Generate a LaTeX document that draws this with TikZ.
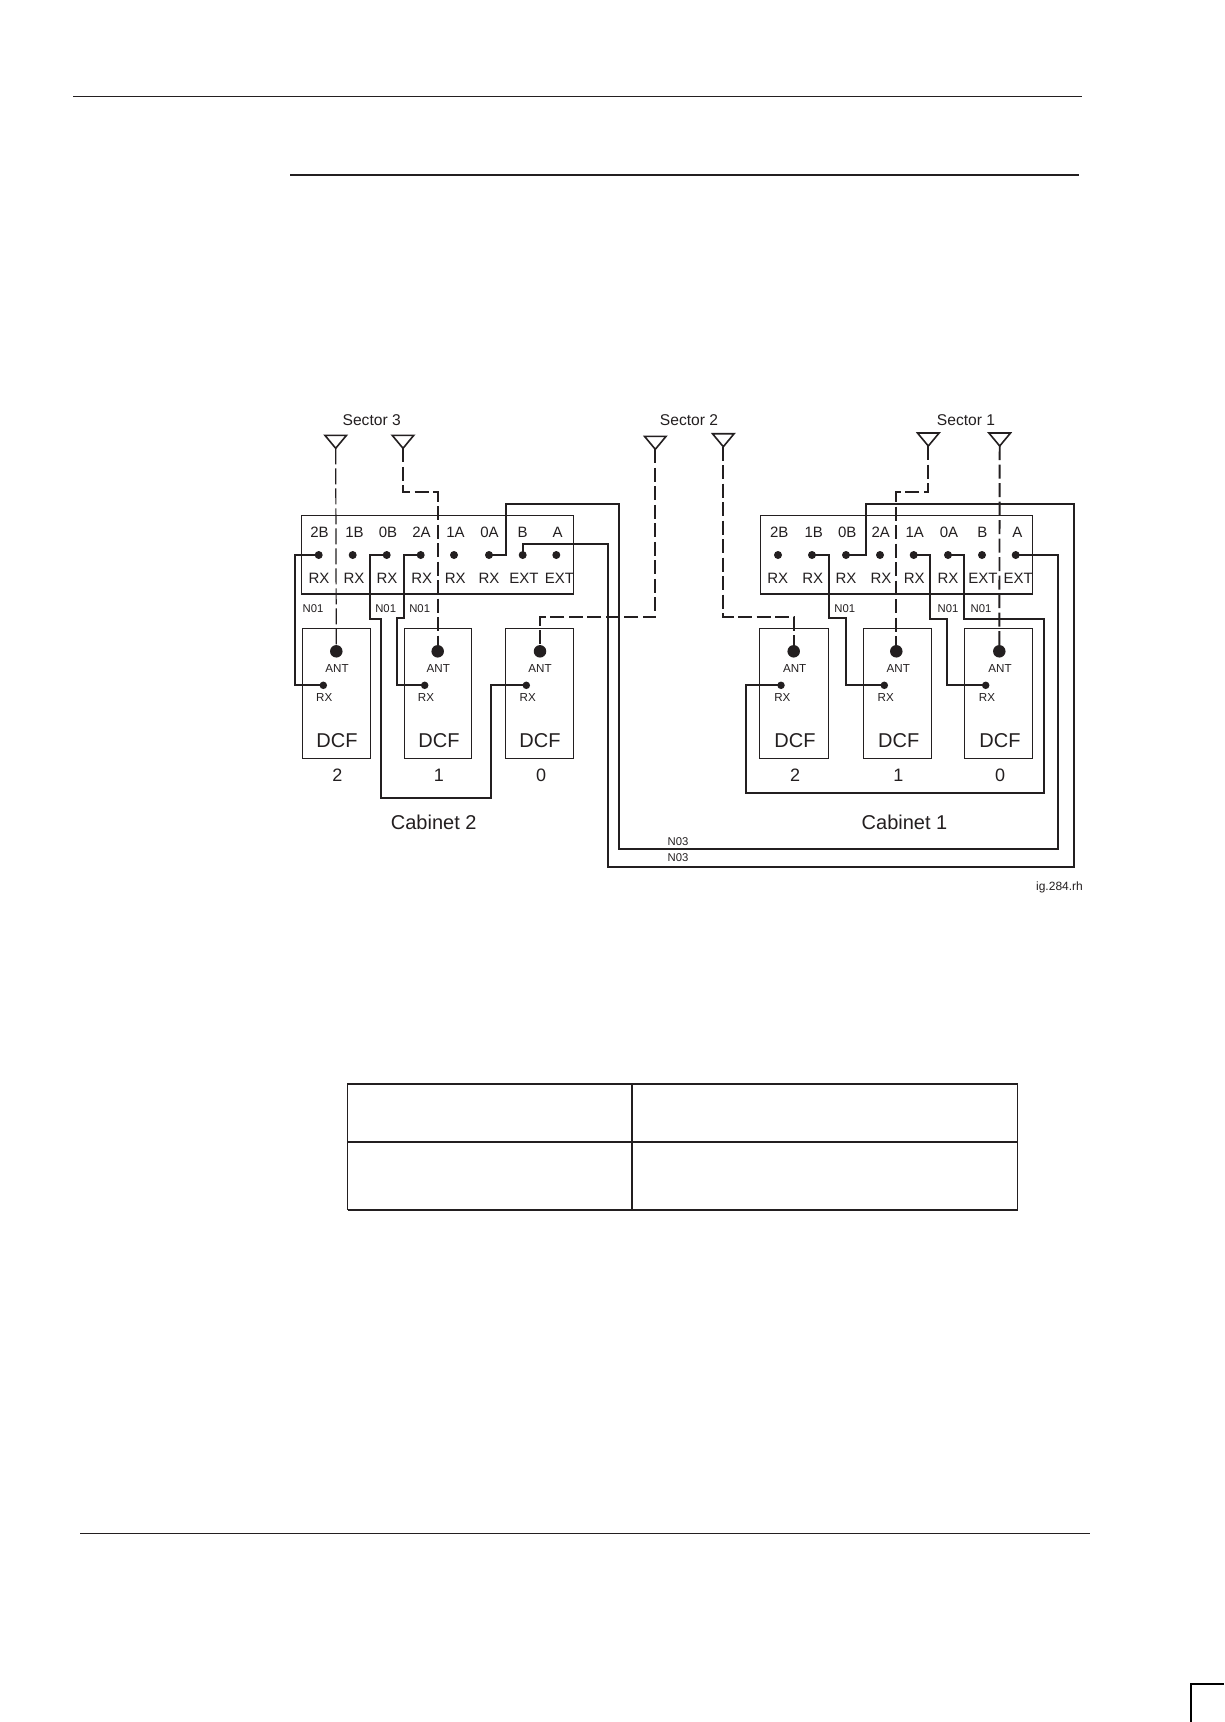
\documentclass[tikz,border=0pt]{standalone}
\usepackage{fontspec}
\setmainfont{Liberation Sans}
\definecolor{ink}{HTML}{231F20}
\tikzset{
  lbl/.style={inner sep=0pt,text=ink,font=\fontsize{15}{15}\selectfont},
  sec/.style={inner sep=0pt,text=ink,font=\fontsize{15.6}{16}\selectfont},
  small/.style={inner sep=0pt,text=ink,font=\fontsize{11.6}{12}\selectfont},
  dcf/.style={inner sep=0pt,text=ink,font=\fontsize{20}{20}\selectfont},
  num/.style={inner sep=0pt,text=ink,font=\fontsize{18}{18}\selectfont},
  cab/.style={inner sep=0pt,text=ink,font=\fontsize{20}{20}\selectfont},
  box/.style={draw=ink,line width=1.1pt},
  pdot/.style={circle,fill=ink,inner sep=0pt,minimum size=8pt},
  adot/.style={circle,fill=ink,inner sep=0pt,minimum size=12.5pt},
  wire/.style={draw=ink,line width=1.9pt,line join=miter},
  feed/.style={draw=ink,line width=1.9pt,dash pattern=on 14pt off 4.5pt},
  thinfeed/.style={draw=ink,line width=1.2pt,dash pattern=on 16pt off 4pt},
  ant/.style={draw=ink,line width=1.6pt,line join=miter},
  rule/.style={draw=ink,line width=1.5pt}
}
\begin{document}
\begin{tikzpicture}[x=1pt,y=-1pt]
\useasboundingbox (0,0) rectangle (1224,1722);
\fill[white] (0,0) rectangle (1224,1722);
% page rules
\coordinate (r1a) at (73,96.5); \coordinate (r1b) at (1081.5,96.5);
\coordinate (r2a) at (290,175); \coordinate (r2b) at (1079,175);
\coordinate (r3a) at (80,1533.5); \coordinate (r3b) at (1089.5,1533.5);
\draw[rule] (r1a) -- (r1b);
\draw[draw=ink,line width=2.2pt] (r2a) -- (r2b);
\draw[rule] (r3a) -- (r3b);
\coordinate (cn1) at (1191,1722); \coordinate (cn2) at (1191,1684); \coordinate (cn3) at (1224,1684);
\draw[draw=black,line width=2pt] (cn1) -- (cn2) -- (cn3);
% empty table
\coordinate (t1) at (347.5,1084); \coordinate (t2) at (1017.5,1084);
\coordinate (t3) at (1017.5,1210); \coordinate (t4) at (347.5,1210);
\draw[draw=ink,line width=1.3pt] (t4) -- (t1) -- (t2);
\draw[draw=ink,line width=1.9pt] (t2) -- (t3);
\draw[draw=ink,line width=2.2pt] (t3) -- (t4);
\draw[draw=ink,line width=2.2pt] (347.5,1142) -- (1017.5,1142);
\draw[draw=ink,line width=1.1pt] (632,1084) -- (632,1210);
% panels
\draw[box] (301.7,515.7) rectangle (573.3,594);
\draw[box] (760.3,515.7) rectangle (1032.7,594);
% DCF boxes
\foreach \a/\b in {302.3/370.3,404.3/471.3,505.3/573.3,759.3/828.7,863.3/931.7,964.3/1032.7}
  \draw[box] (\a,628.3) rectangle (\b,758.3);
% panel dots and labels: cabinet 2
\foreach \n/\x/\tx/\bx/\t/\b in {
  tb/318.7/319.5/319/2B/RX, ob/352.7/354.5/354/1B/RX, zb/386.7/388/387/0B/RX, ta/420.7/421.5/421.7/2A/RX,
  oa/454/455.5/455.3/1A/RX, za/489/489.5/489/0A/RX, b/522.7/522.7/524/B/EXT, a/556.3/557.5/559.5/A/EXT}{
  \node[pdot] (dl\n) at (\x,555) {};
  \node[lbl] (topl\n) at (\tx,532.7) {\t};
  \node[lbl] (botl\n) at (\bx,578) {\b};
}
% panel dots and labels: cabinet 1
\foreach \n/\x/\tx/\bx/\t/\b in {
  tb/778/779.3/777.7/2B/RX, ob/812/813.7/812.7/1B/RX, zb/846/847.3/846/0B/RX, ta/880/880.7/881/2A/RX,
  oa/913.7/914.7/914.3/1A/RX, za/948/949/948/0A/RX, b/982/982.3/983/B/EXT, a/1015.7/1017.3/1018.3/A/EXT}{
  \node[pdot] (dr\n) at (\x,555) {};
  \node[lbl] (topr\n) at (\tx,532.7) {\t};
  \node[lbl] (botr\n) at (\bx,578) {\b};
}
% DCF contents
\foreach \n/\ad/\al/\rd/\rl/\dl/\nl/\num in {
  lc/336.3/337/323.3/324.3/337/337.3/2, lb/437.7/438.3/424.7/426/439/439/1, la/540/540/526.3/527.7/540/541/0,
  rc/793.7/794.7/781/782.3/795/795/2, rb/896.3/898.3/884.3/885.7/898.7/898.3/1, ra/999.3/1000/985.7/987/1000/1000/0}{
  \node[adot] (ant\n) at (\ad,651.3) {};
  \node[small] (antl\n) at (\al,668.3) {ANT};
  \node[pdot,minimum size=7.5pt] (rx\n) at (\rd,685.3) {};
  \node[small] (rxl\n) at (\rl,697.3) {RX};
  \node[dcf] (dcf\n) at (\dl,741) {DCF};
  \node[num] (num\n) at (\nl,775) {\num};
}
% antenna tips
\coordinate (s3a) at (335.7,448.3);
\coordinate (s3b) at (403,448.3);
\coordinate (s2a) at (655.3,449.3);
\coordinate (s2b) at (723.3,446.7);
\coordinate (s1a) at (928.3,446);
\coordinate (s1b) at (999.7,446);
\foreach \c in {s3a,s3b,s2a,s2b,s1a,s1b}
  \draw[ant] (\c) -- ++(-10.8,-13) -- ++(21.6,0) -- cycle;
% feeders
\draw[thinfeed] (s3a) -- (antlc.center);
\draw[feed] (s3b) -- (403,492.3) -- (437.7,492.3) -- (antlb.center);
\draw[feed] (s2a) -- (655.3,617) -- (540,617) -- (antla.center);
\draw[feed] (s2b) -- (723.3,617) -- (793.7,617) -- (antrc.center);
\draw[feed] (s1a) -- (928.3,492.3) -- (896.3,492.3) -- (antrb.center);
\draw[feed] (s1b) -- (antra.center);
% N01 jumpers cabinet 2
\draw[wire] (dltb.center) -- (295,555) -- (295,685.3) -- (rxlc.center);
\draw[wire] (dlzb.center) -- (369.7,555) -- (369.7,618.7) -- (381,618.7) -- (381,798.3) -- (491.3,798.3) -- (491.3,685.3) -- (rxla.center);
\draw[wire] (dlta.center) -- (403.7,555) -- (403.7,618) -- (397,618) -- (397,685.3) -- (rxlb.center);
% N01 jumpers cabinet 1
\draw[wire] (drob.center) -- (829,555) -- (829,617.7) -- (846,617.7) -- (846,685.3) -- (rxrb.center);
\draw[wire] (droa.center) -- (930,555) -- (930,619) -- (947,619) -- (947,685.3) -- (rxra.center);
\draw[wire] (drza.center) -- (964,555) -- (964,619) -- (1043.7,619) -- (1043.7,793) -- (745.7,793) -- (745.7,685.3) -- (rxrc.center);
% N03 cables
\draw[wire] (dlza.center) -- (506,555) -- (506,503.7) -- (619.3,503.7) -- (619.3,849.3) -- (1058,849.3) -- (1058,555) -- (dra.center);
\draw[wire] (dlb.center) -- (522.7,544.3) -- (608.3,544.3) -- (608.3,866.7) -- (1073.7,866.7) -- (1073.7,503.7) -- (865.7,503.7) -- (865.7,555) -- (drzb.center);
% labels
\node[sec] (sl3) at (371.7,420) {Sector 3};
\node[sec] (sl2) at (689,420.5) {Sector 2};
\node[sec] (sl1) at (966,420.5) {Sector 1};
\foreach \i/\x in {a/313,b/385.7,c/419.7,d/844.7,e/948,f/981}
  \node[small,font=\fontsize{11.3}{12}\selectfont] (n01\i) at (\x,609) {N01};
\node[small,font=\fontsize{11.3}{12}\selectfont] (n03a) at (678,841.7) {N03};
\node[small,font=\fontsize{11.3}{12}\selectfont] (n03b) at (678,858) {N03};
\node[cab] (cab2) at (433.7,822.7) {Cabinet 2};
\node[cab] (cab1) at (904.5,822.7) {Cabinet 1};
\node[small,font=\fontsize{12}{12}\selectfont] (fig) at (1059.5,887.5) {ig.284.rh};
\end{tikzpicture}
\end{document}
